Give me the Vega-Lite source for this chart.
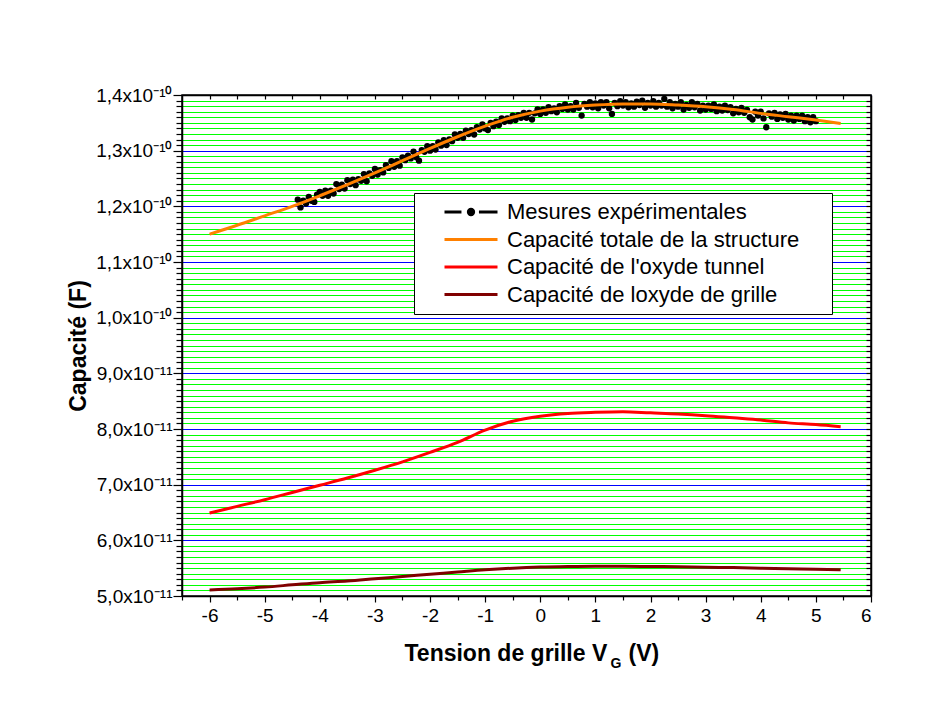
{
  "$schema": "https://vega.github.io/schema/vega-lite/v6.json",
  "width": 689,
  "height": 501,
  "autosize": {"type": "none"},
  "padding": {"left": 182, "top": 95, "right": 74, "bottom": 126},
  "background": "white",
  "config": {
    "font": "Liberation Sans",
    "view": {"stroke": "black", "strokeWidth": 1.5},
    "axis": {"domainColor": "black", "tickColor": "black", "labelColor": "black", "titleColor": "black", "labelFont": "Liberation Sans", "titleFont": "Liberation Sans", "tickWidth": 1.2}
  },
  "datasets": {
    "mesures": [
      {"x":-4.40,"c":12.12},{"x":-4.35,"c":11.98},{"x":-4.30,"c":12.10},{"x":-4.25,"c":12.05},{"x":-4.20,"c":12.17},{"x":-4.15,"c":12.10},{"x":-4.10,"c":12.08},{"x":-4.05,"c":12.21},{"x":-4.00,"c":12.26},{"x":-3.95,"c":12.19},
      {"x":-3.90,"c":12.28},{"x":-3.85,"c":12.19},{"x":-3.80,"c":12.28},{"x":-3.75,"c":12.23},{"x":-3.70,"c":12.40},{"x":-3.65,"c":12.31},{"x":-3.60,"c":12.39},{"x":-3.55,"c":12.32},{"x":-3.50,"c":12.47},{"x":-3.45,"c":12.40},
      {"x":-3.40,"c":12.48},{"x":-3.35,"c":12.38},{"x":-3.30,"c":12.49},{"x":-3.25,"c":12.46},{"x":-3.20,"c":12.58},{"x":-3.15,"c":12.45},{"x":-3.10,"c":12.59},{"x":-3.05,"c":12.55},{"x":-3.00,"c":12.67},{"x":-2.95,"c":12.57},
      {"x":-2.90,"c":12.65},{"x":-2.85,"c":12.61},{"x":-2.80,"c":12.74},{"x":-2.75,"c":12.69},{"x":-2.70,"c":12.81},{"x":-2.65,"c":12.71},{"x":-2.60,"c":12.81},{"x":-2.55,"c":12.73},{"x":-2.50,"c":12.88},{"x":-2.45,"c":12.83},
      {"x":-2.40,"c":12.91},{"x":-2.35,"c":12.86},{"x":-2.30,"c":12.98},{"x":-2.25,"c":12.88},{"x":-2.20,"c":12.82},{"x":-2.15,"c":13.01},{"x":-2.10,"c":12.98},{"x":-2.05,"c":13.08},{"x":-2.00,"c":13.00},{"x":-1.95,"c":13.08},
      {"x":-1.90,"c":13.02},{"x":-1.85,"c":13.15},{"x":-1.80,"c":13.09},{"x":-1.75,"c":13.19},{"x":-1.70,"c":13.10},{"x":-1.65,"c":13.20},{"x":-1.60,"c":13.17},{"x":-1.55,"c":13.29},{"x":-1.50,"c":13.23},{"x":-1.45,"c":13.30},
      {"x":-1.40,"c":13.23},{"x":-1.35,"c":13.36},{"x":-1.30,"c":13.30},{"x":-1.25,"c":13.37},{"x":-1.20,"c":13.29},{"x":-1.15,"c":13.42},{"x":-1.10,"c":13.38},{"x":-1.05,"c":13.47},{"x":-1.00,"c":13.40},{"x":-0.95,"c":13.37},
      {"x":-0.90,"c":13.50},{"x":-0.85,"c":13.44},{"x":-0.80,"c":13.52},{"x":-0.75,"c":13.46},{"x":-0.70,"c":13.58},{"x":-0.65,"c":13.52},{"x":-0.60,"c":13.58},{"x":-0.55,"c":13.53},{"x":-0.50,"c":13.63},{"x":-0.45,"c":13.55},
      {"x":-0.40,"c":13.64},{"x":-0.35,"c":13.59},{"x":-0.30,"c":13.68},{"x":-0.25,"c":13.59},{"x":-0.20,"c":13.68},{"x":-0.15,"c":13.56},{"x":-0.10,"c":13.67},{"x":-0.05,"c":13.74},{"x":0.00,"c":13.66},{"x":0.05,"c":13.74},
      {"x":0.10,"c":13.68},{"x":0.15,"c":13.78},{"x":0.20,"c":13.71},{"x":0.25,"c":13.76},{"x":0.30,"c":13.69},{"x":0.35,"c":13.80},{"x":0.40,"c":13.75},{"x":0.45,"c":13.83},{"x":0.50,"c":13.74},{"x":0.55,"c":13.80},
      {"x":0.60,"c":13.74},{"x":0.65,"c":13.86},{"x":0.70,"c":13.77},{"x":0.75,"c":13.63},{"x":0.80,"c":13.84},{"x":0.85,"c":13.79},{"x":0.90,"c":13.87},{"x":0.95,"c":13.78},{"x":1.00,"c":13.85},{"x":1.05,"c":13.76},
      {"x":1.10,"c":13.87},{"x":1.15,"c":13.81},{"x":1.20,"c":13.87},{"x":1.25,"c":13.76},{"x":1.30,"c":13.66},{"x":1.35,"c":13.86},{"x":1.40,"c":13.80},{"x":1.45,"c":13.89},{"x":1.50,"c":13.81},{"x":1.55,"c":13.87},
      {"x":1.60,"c":13.78},{"x":1.65,"c":13.85},{"x":1.70,"c":13.79},{"x":1.75,"c":13.88},{"x":1.80,"c":13.82},{"x":1.85,"c":13.90},{"x":1.90,"c":13.77},{"x":1.95,"c":13.86},{"x":2.00,"c":13.81},{"x":2.05,"c":13.89},
      {"x":2.10,"c":13.79},{"x":2.15,"c":13.86},{"x":2.20,"c":13.81},{"x":2.25,"c":13.93},{"x":2.30,"c":13.79},{"x":2.35,"c":13.87},{"x":2.40,"c":13.76},{"x":2.45,"c":13.84},{"x":2.50,"c":13.79},{"x":2.55,"c":13.87},
      {"x":2.60,"c":13.74},{"x":2.65,"c":13.82},{"x":2.70,"c":13.77},{"x":2.75,"c":13.87},{"x":2.80,"c":13.78},{"x":2.85,"c":13.84},{"x":2.90,"c":13.72},{"x":2.95,"c":13.81},{"x":3.00,"c":13.74},{"x":3.05,"c":13.81},
      {"x":3.10,"c":13.75},{"x":3.15,"c":13.83},{"x":3.20,"c":13.71},{"x":3.25,"c":13.79},{"x":3.30,"c":13.72},{"x":3.35,"c":13.81},{"x":3.40,"c":13.73},{"x":3.45,"c":13.78},{"x":3.50,"c":13.67},{"x":3.55,"c":13.75},
      {"x":3.60,"c":13.69},{"x":3.65,"c":13.77},{"x":3.70,"c":13.68},{"x":3.75,"c":13.73},{"x":3.80,"c":13.60},{"x":3.85,"c":13.56},{"x":3.90,"c":13.70},{"x":3.95,"c":13.63},{"x":4.00,"c":13.70},{"x":4.05,"c":13.58},
      {"x":4.10,"c":13.42},{"x":4.15,"c":13.67},{"x":4.20,"c":13.61},{"x":4.25,"c":13.68},{"x":4.30,"c":13.57},{"x":4.35,"c":13.65},{"x":4.40,"c":13.59},{"x":4.45,"c":13.66},{"x":4.50,"c":13.56},{"x":4.55,"c":13.63},
      {"x":4.60,"c":13.54},{"x":4.65,"c":13.63},{"x":4.70,"c":13.57},{"x":4.75,"c":13.63},{"x":4.80,"c":13.53},{"x":4.85,"c":13.60},{"x":4.90,"c":13.51},{"x":4.95,"c":13.60},{"x":5.00,"c":13.53}
    ],
    "courbes": [
      {"serie":"Capacité totale de la structure","x":-6,"c":11.50},{"serie":"Capacité totale de la structure","x":-5.5,"c":11.66},{"serie":"Capacité totale de la structure","x":-5,"c":11.83},{"serie":"Capacité totale de la structure","x":-4.5,"c":12.00},{"serie":"Capacité totale de la structure","x":-4,"c":12.19},{"serie":"Capacité totale de la structure","x":-3.5,"c":12.39},{"serie":"Capacité totale de la structure","x":-3,"c":12.60},{"serie":"Capacité totale de la structure","x":-2.5,"c":12.82},{"serie":"Capacité totale de la structure","x":-2,"c":13.04},{"serie":"Capacité totale de la structure","x":-1.5,"c":13.25},{"serie":"Capacité totale de la structure","x":-1,"c":13.44},{"serie":"Capacité totale de la structure","x":-0.5,"c":13.60},{"serie":"Capacité totale de la structure","x":0,"c":13.71},{"serie":"Capacité totale de la structure","x":0.5,"c":13.78},{"serie":"Capacité totale de la structure","x":1,"c":13.82},{"serie":"Capacité totale de la structure","x":1.5,"c":13.84},{"serie":"Capacité totale de la structure","x":2,"c":13.84},{"serie":"Capacité totale de la structure","x":2.5,"c":13.82},{"serie":"Capacité totale de la structure","x":3,"c":13.79},{"serie":"Capacité totale de la structure","x":3.5,"c":13.74},{"serie":"Capacité totale de la structure","x":4,"c":13.67},{"serie":"Capacité totale de la structure","x":4.5,"c":13.61},{"serie":"Capacité totale de la structure","x":5,"c":13.55},{"serie":"Capacité totale de la structure","x":5.45,"c":13.49},
      {"serie":"Capacité de l'oxyde tunnel","x":-6,"c":6.49},{"serie":"Capacité de l'oxyde tunnel","x":-5.5,"c":6.61},{"serie":"Capacité de l'oxyde tunnel","x":-5,"c":6.73},{"serie":"Capacité de l'oxyde tunnel","x":-4.5,"c":6.86},{"serie":"Capacité de l'oxyde tunnel","x":-4,"c":6.99},{"serie":"Capacité de l'oxyde tunnel","x":-3.5,"c":7.12},{"serie":"Capacité de l'oxyde tunnel","x":-3,"c":7.26},{"serie":"Capacité de l'oxyde tunnel","x":-2.5,"c":7.41},{"serie":"Capacité de l'oxyde tunnel","x":-2,"c":7.58},{"serie":"Capacité de l'oxyde tunnel","x":-1.5,"c":7.76},{"serie":"Capacité de l'oxyde tunnel","x":-1,"c":7.98},{"serie":"Capacité de l'oxyde tunnel","x":-0.5,"c":8.14},{"serie":"Capacité de l'oxyde tunnel","x":0,"c":8.23},{"serie":"Capacité de l'oxyde tunnel","x":0.5,"c":8.28},{"serie":"Capacité de l'oxyde tunnel","x":1,"c":8.30},{"serie":"Capacité de l'oxyde tunnel","x":1.5,"c":8.31},{"serie":"Capacité de l'oxyde tunnel","x":2,"c":8.29},{"serie":"Capacité de l'oxyde tunnel","x":2.5,"c":8.27},{"serie":"Capacité de l'oxyde tunnel","x":3,"c":8.24},{"serie":"Capacité de l'oxyde tunnel","x":3.5,"c":8.20},{"serie":"Capacité de l'oxyde tunnel","x":4,"c":8.16},{"serie":"Capacité de l'oxyde tunnel","x":4.5,"c":8.11},{"serie":"Capacité de l'oxyde tunnel","x":5,"c":8.08},{"serie":"Capacité de l'oxyde tunnel","x":5.45,"c":8.04},
      {"serie":"Capacité de loxyde de grille","x":-6,"c":5.11},{"serie":"Capacité de loxyde de grille","x":-5.5,"c":5.13},{"serie":"Capacité de loxyde de grille","x":-5,"c":5.16},{"serie":"Capacité de loxyde de grille","x":-4.5,"c":5.20},{"serie":"Capacité de loxyde de grille","x":-4,"c":5.24},{"serie":"Capacité de loxyde de grille","x":-3.5,"c":5.27},{"serie":"Capacité de loxyde de grille","x":-3,"c":5.31},{"serie":"Capacité de loxyde de grille","x":-2.5,"c":5.35},{"serie":"Capacité de loxyde de grille","x":-2,"c":5.39},{"serie":"Capacité de loxyde de grille","x":-1.5,"c":5.43},{"serie":"Capacité de loxyde de grille","x":-1,"c":5.47},{"serie":"Capacité de loxyde de grille","x":-0.5,"c":5.50},{"serie":"Capacité de loxyde de grille","x":0,"c":5.52},{"serie":"Capacité de loxyde de grille","x":0.5,"c":5.53},{"serie":"Capacité de loxyde de grille","x":1,"c":5.535},{"serie":"Capacité de loxyde de grille","x":1.5,"c":5.535},{"serie":"Capacité de loxyde de grille","x":2,"c":5.53},{"serie":"Capacité de loxyde de grille","x":2.5,"c":5.525},{"serie":"Capacité de loxyde de grille","x":3,"c":5.515},{"serie":"Capacité de loxyde de grille","x":3.5,"c":5.51},{"serie":"Capacité de loxyde de grille","x":4,"c":5.50},{"serie":"Capacité de loxyde de grille","x":4.5,"c":5.49},{"serie":"Capacité de loxyde de grille","x":5,"c":5.48},{"serie":"Capacité de loxyde de grille","x":5.45,"c":5.47}
    ]
  },
  "layer": [
    {
      "data": {"name": "mesures"},
      "mark": {"type": "circle", "size": 40, "opacity": 1, "color": "black"},
      "encoding": {
        "x": {"field": "x", "type": "quantitative", "scale": {"domain": [-6.5, 6], "nice": false, "zero": false},
          "axis": {"orient": "bottom", "values": [-6.5,-5.5,-4.5,-3.5,-2.5,-1.5,-0.5,0.5,1.5,2.5,3.5,4.5,5.5], "tickSize": 4, "labels": false, "grid": false, "domain": false,
            "title": "G", "titleFontSize": 14, "titleFontWeight": "bold", "titleAlign": "left", "titleBaseline": "alphabetic", "titleAngle": 0, "titleX": 428, "titleY": 71}},
        "y": {"field": "c", "type": "quantitative", "scale": {"domain": [5, 14], "nice": false, "zero": false},
          "axis": {"orient": "left", "values": [5.1,5.2,5.3,5.4,5.5,5.6,5.7,5.8,5.9,6.1,6.2,6.3,6.4,6.5,6.6,6.7,6.8,6.9,7.1,7.2,7.3,7.4,7.5,7.6,7.7,7.8,7.9,8.1,8.2,8.3,8.4,8.5,8.6,8.7,8.8,8.9,9.1,9.2,9.3,9.4,9.5,9.6,9.7,9.8,9.9,10.1,10.2,10.3,10.4,10.5,10.6,10.7,10.8,10.9,11.1,11.2,11.3,11.4,11.5,11.6,11.7,11.8,11.9,12.1,12.2,12.3,12.4,12.5,12.6,12.7,12.8,12.9,13.1,13.2,13.3,13.4,13.5,13.6,13.7,13.8,13.9],
            "tickSize": 6, "labels": false, "grid": true, "gridColor": "#00ff00", "gridWidth": 1, "gridOpacity": 1, "domain": false, "title": null}}
      }
    },
    {
      "data": {"name": "courbes"},
      "mark": {"type": "line", "strokeWidth": 3, "interpolate": "monotone"},
      "encoding": {
        "x": {"field": "x", "type": "quantitative",
          "axis": {"orient": "bottom", "values": [-6,-5,-4,-3,-2,-1,0,1,2,3,4,5,6], "tickSize": 6, "labelExpr": "'' + datum.value", "labelFontSize": 19, "labelPadding": 4, "grid": false, "domain": true, "domainWidth": 1.5,
            "title": "Tension de grille V", "titleFontSize": 23, "titleFontWeight": "bold", "titleAlign": "left", "titleBaseline": "alphabetic", "titleAngle": 0, "titleX": 222, "titleY": 64}},
        "y": {"field": "c", "type": "quantitative",
          "axis": {"orient": "left", "values": [5,6,7,8,9,10,11,12,13,14], "tickSize": 9, "labelFontSize": 19, "labelPadding": 1,
            "labelExpr": "datum.value >= 9.99 ? replace(format(datum.value / 10, '.1f'), '.', ',') + 'x10⁻¹⁰' : replace(format(datum.value, '.1f'), '.', ',') + 'x10⁻¹¹'",
            "grid": true, "gridColor": "#0000ff", "gridWidth": 1, "gridOpacity": 1, "domain": true, "domainWidth": 1.5,
            "title": "Capacité (F)", "titleFontSize": 23, "titleFontWeight": "bold", "titleAngle": 270, "titleAlign": "center", "titleBaseline": "alphabetic", "titleX": -97, "titleY": 250.5}},
        "color": {"field": "serie", "type": "nominal",
          "scale": {"domain": ["Mesures expérimentales", "Capacité totale de la structure", "Capacité de l'oxyde tunnel", "Capacité de loxyde de grille"], "range": ["#000000", "#ff8000", "#ff0000", "#800000"]},
          "legend": {"orient": "none", "legendX": 232, "legendY": 98, "title": "ii", "titleOrient": "right", "titleOpacity": 0, "titleFontSize": 10, "titlePadding": 21,
            "symbolType": "stroke", "symbolSize": 2809, "symbolStrokeWidth": 3, "symbolOffset": 23,
            "clipHeight": 26, "rowPadding": 1.5, "padding": 6, "labelFont": "Liberation Sans", "labelFontSize": 22, "labelColor": "black", "labelOffset": 8, "labelLimit": 600,
            "strokeColor": "black", "fillColor": "white",
            "encode": {"symbols": {"update": {
              "shape": {"signal": "datum.value === 'Mesures expérimentales' ? 'M-1,0H-0.36M0.3,0H1M0.1,0A0.1,0.1,0,1,1,-0.1,0A0.1,0.1,0,1,1,0.1,0' : 'stroke'"},
              "fill": {"value": "black"}, "fillOpacity": {"value": 1}}}}}
        }
      }
    },
    {
      "data": {"name": "courbes"},
      "mark": {"type": "point", "opacity": 0},
      "encoding": {
        "x": {"field": "x", "type": "quantitative",
          "axis": {"orient": "top", "values": [-6,-5.5,-5,-4.5,-4,-3.5,-3,-2.5,-2,-1.5,-1,-0.5,0,0.5,1,1.5,2,2.5,3,3.5,4,4.5,5,5.5], "tickSize": -4, "labels": false, "grid": false, "domain": true, "domainWidth": 1.5, "title": null}},
        "y": {"field": "c", "type": "quantitative",
          "axis": {"orient": "right", "values": [5.1,5.2,5.3,5.4,5.5,5.6,5.7,5.8,5.9,6,6.1,6.2,6.3,6.4,6.5,6.6,6.7,6.8,6.9,7,7.1,7.2,7.3,7.4,7.5,7.6,7.7,7.8,7.9,8,8.1,8.2,8.3,8.4,8.5,8.6,8.7,8.8,8.9,9,9.1,9.2,9.3,9.4,9.5,9.6,9.7,9.8,9.9,10,10.1,10.2,10.3,10.4,10.5,10.6,10.7,10.8,10.9,11,11.1,11.2,11.3,11.4,11.5,11.6,11.7,11.8,11.9,12,12.1,12.2,12.3,12.4,12.5,12.6,12.7,12.8,12.9,13,13.1,13.2,13.3,13.4,13.5,13.6,13.7,13.8,13.9],
            "tickSize": -5, "labels": false, "grid": false, "domain": true, "domainWidth": 1.5, "title": null}}
      }
    },
    {
      "data": {"name": "courbes"},
      "mark": {"type": "point", "opacity": 0},
      "encoding": {
        "x": {"field": "x", "type": "quantitative",
          "axis": {"orient": "bottom", "values": [], "ticks": false, "labels": false, "grid": false, "domain": false,
            "title": "(V)", "titleFontSize": 23, "titleFontWeight": "bold", "titleAlign": "left", "titleBaseline": "alphabetic", "titleAngle": 0, "titleX": 446, "titleY": 64}},
        "y": {"field": "c", "type": "quantitative", "axis": null}
      }
    }
  ],
  "resolve": {"axis": {"x": "independent", "y": "independent"}}
}
